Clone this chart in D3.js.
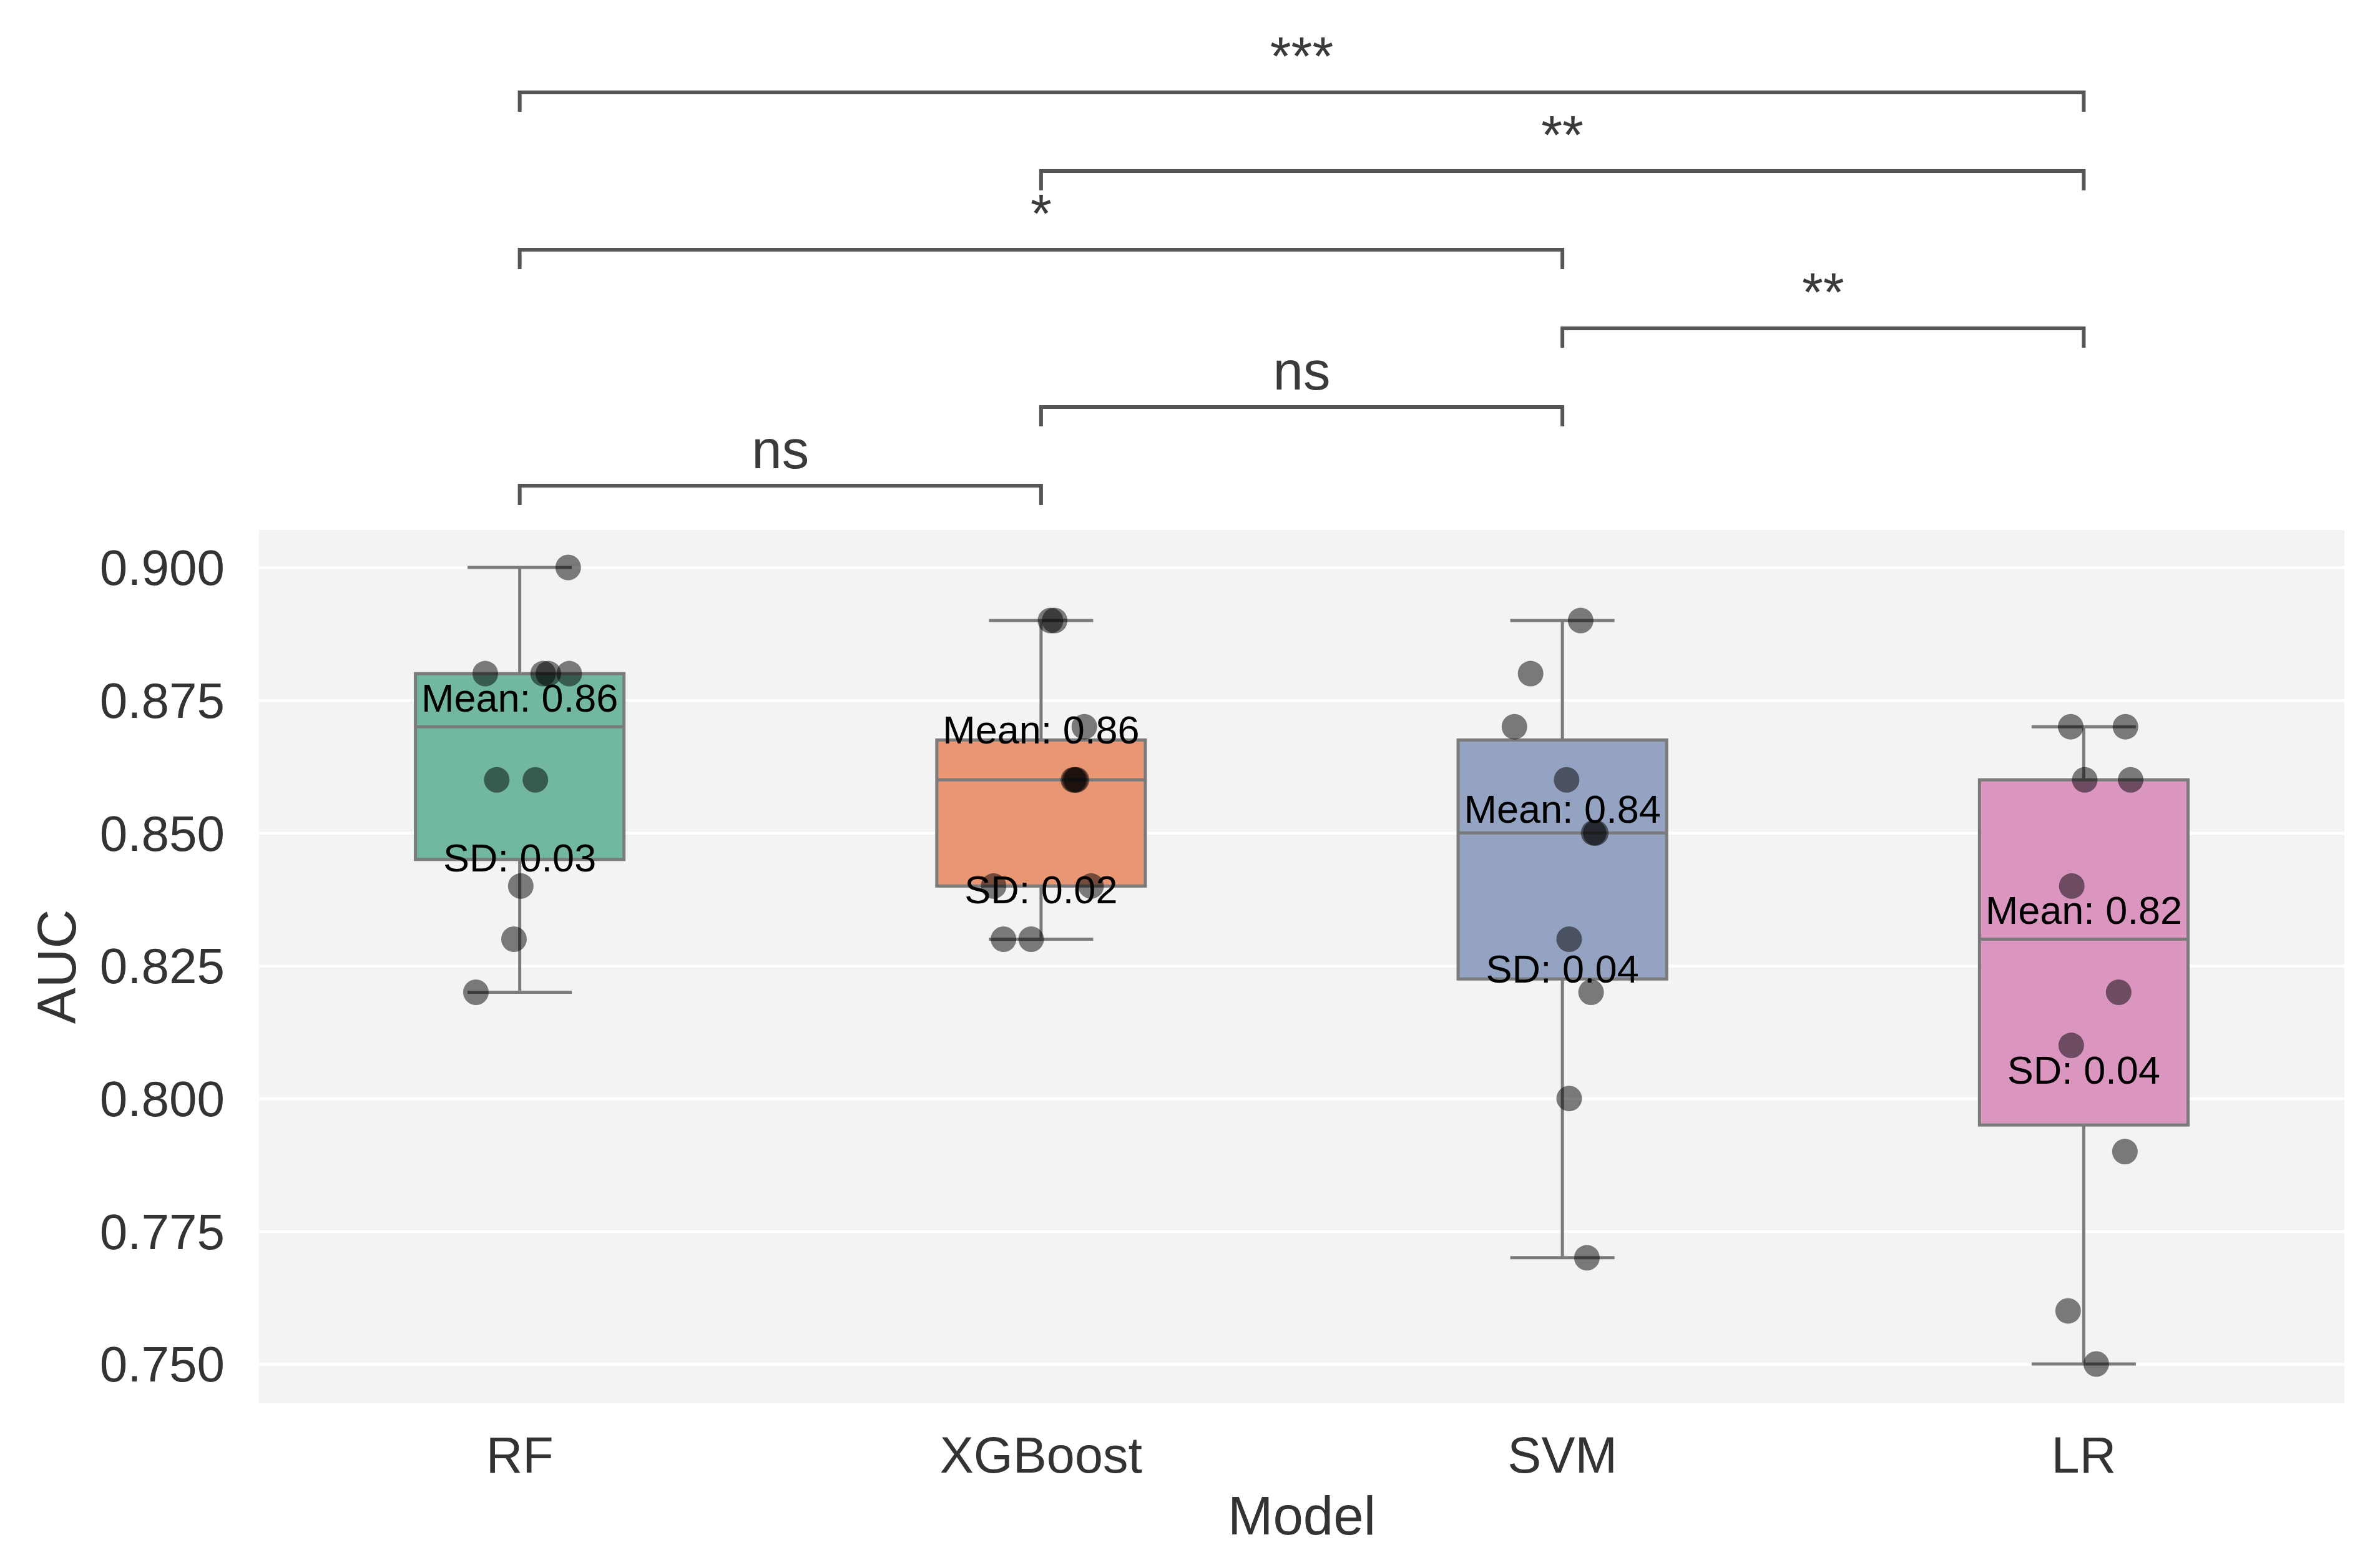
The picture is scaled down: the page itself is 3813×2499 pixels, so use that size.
<!DOCTYPE html>
<html>
<head>
<meta charset="utf-8">
<script src="https://cdn.jsdelivr.net/npm/d3@7"></script>
<style>
  html, body { margin: 0; padding: 0; background: #ffffff; }
  svg { display: block; }
</style>
</head>
<body>
<script>
// ---------------- DATA ----------------
const categories = ["RF", "XGBoost", "SVM", "LR"];
const rfValues   = [0.90, 0.88, 0.88, 0.88, 0.88, 0.86, 0.86, 0.84, 0.83, 0.82];
const xgbValues  = [0.89, 0.89, 0.87, 0.86, 0.86, 0.86, 0.84, 0.84, 0.83, 0.83];
const svmValues  = [0.89, 0.88, 0.87, 0.86, 0.85, 0.85, 0.83, 0.82, 0.80, 0.77];
const lrValues   = [0.87, 0.87, 0.86, 0.86, 0.84, 0.82, 0.81, 0.79, 0.76, 0.75];
// strip-plot jitter (fraction of band width)
const rfJitter   = [0.093, -0.066, 0.045, 0.055, 0.095, -0.044, 0.030, 0.002, -0.011, -0.084];
const xgbJitter  = [0.018, 0.026, 0.083, 0.062, 0.065, 0.068, -0.091, 0.096, -0.072, -0.019];
const svmJitter  = [0.035, -0.061, -0.092, 0.008, 0.060, 0.064, 0.013, 0.055, 0.013, 0.047];
const lrJitter   = [-0.025, 0.080, 0.002, 0.090, -0.023, 0.067, -0.024, 0.079, -0.030, 0.024];
const yTicks = [0.750, 0.775, 0.800, 0.825, 0.850, 0.875, 0.900];
const comparisons = [
  ["RF", "XGBoost", "ns"],
  ["XGBoost", "SVM", "ns"],
  ["SVM", "LR", "**"],
  ["RF", "SVM", "*"],
  ["XGBoost", "LR", "**"],
  ["RF", "LR", "***"]
];
const palette = ["#71b7a1", "#e99675", "#95a3c3", "#db96c0"];

const seriesValues = [rfValues, xgbValues, svmValues, lrValues];
const seriesJitter = [rfJitter, xgbJitter, svmJitter, lrJitter];

// ---------------- LAYOUT ----------------
const W = 3813, H = 2499;
const plot = { left: 415, right: 3756, top: 849, bottom: 2248 };
const FONT = "'Liberation Sans', Arial, Helvetica, sans-serif";

const svg = d3.select("body").append("svg")
  .attr("width", W).attr("height", H)
  .attr("viewBox", `0 0 ${W} ${H}`);

const x = d3.scaleBand().domain(categories)
  .range([plot.left, plot.right]).paddingInner(0).paddingOuter(0);
const y = d3.scaleLinear().domain([0.74259, 0.90705])
  .range([plot.bottom, plot.top]);

// background
svg.append("rect")
  .attr("x", plot.left).attr("y", plot.top)
  .attr("width", plot.right - plot.left).attr("height", plot.bottom - plot.top)
  .attr("fill", "#f3f3f3");

// gridlines
const yAxisGrid = d3.axisLeft(y).tickValues(yTicks)
  .tickSize(-(plot.right - plot.left)).tickFormat("");
const grid = svg.append("g").attr("transform", `translate(${plot.left},0)`).call(yAxisGrid);
grid.select(".domain").remove();
grid.selectAll("line").attr("stroke", "#ffffff").attr("stroke-width", 4.5);

// y axis labels
const yAxis = d3.axisLeft(y).tickValues(yTicks).tickSize(0).tickPadding(55)
  .tickFormat(d3.format(".3f"));
const ya = svg.append("g").attr("transform", `translate(${plot.left},0)`).call(yAxis);
ya.select(".domain").remove();
ya.selectAll("text").attr("font-family", FONT).attr("font-size", 80)
  .attr("fill", "#333333").attr("dy", "0.35em");

// x axis labels
const xAxis = d3.axisBottom(x).tickSize(0).tickPadding(0);
const xa = svg.append("g").attr("transform", `translate(0,${plot.bottom})`).call(xAxis);
xa.select(".domain").remove();
xa.selectAll("text").attr("font-family", FONT).attr("font-size", 81)
  .attr("fill", "#333333").attr("y", 111).attr("dy", 0);

// axis titles
svg.append("text").attr("x", (plot.left + plot.right) / 2).attr("y", 2458)
  .attr("text-anchor", "middle").attr("font-family", FONT).attr("font-size", 87)
  .attr("fill", "#333333").text("Model");
svg.append("text")
  .attr("transform", `translate(121,${(plot.top + plot.bottom) / 2}) rotate(-90)`)
  .attr("text-anchor", "middle").attr("font-family", FONT).attr("font-size", 87)
  .attr("fill", "#333333").text("AUC");

// ---------------- BOXES ----------------
const lineColor = "#7b7b7b";
const lw = 5;
const bw = x.bandwidth();
const boxW = bw * 0.4;

const stats = categories.map((c, i) => {
  const v = seriesValues[i].slice().sort(d3.ascending);
  const q1 = d3.quantile(v, 0.25), med = d3.quantile(v, 0.5), q3 = d3.quantile(v, 0.75);
  const iqr = q3 - q1;
  const lo = d3.min(v.filter(d => d >= q1 - 1.5 * iqr));
  const hi = d3.max(v.filter(d => d <= q3 + 1.5 * iqr));
  return { c, i, q1, med, q3, lo, hi, mean: d3.mean(v), sd: d3.deviation(v) };
});

const boxes = svg.append("g");
stats.forEach(s => {
  const cx = x(s.c) + bw / 2;
  const g = boxes.append("g");
  // whiskers
  g.append("line").attr("x1", cx).attr("x2", cx).attr("y1", y(s.q3)).attr("y2", y(s.hi))
    .attr("stroke", lineColor).attr("stroke-width", lw);
  g.append("line").attr("x1", cx).attr("x2", cx).attr("y1", y(s.q1)).attr("y2", y(s.lo))
    .attr("stroke", lineColor).attr("stroke-width", lw);
  // caps
  [s.hi, s.lo].forEach(v => {
    g.append("line").attr("x1", cx - boxW / 4).attr("x2", cx + boxW / 4)
      .attr("y1", y(v)).attr("y2", y(v))
      .attr("stroke", lineColor).attr("stroke-width", lw);
  });
  // box
  g.append("rect").attr("x", cx - boxW / 2).attr("y", y(s.q3))
    .attr("width", boxW).attr("height", y(s.q1) - y(s.q3))
    .attr("fill", palette[s.i]).attr("stroke", lineColor).attr("stroke-width", lw);
  // median
  g.append("line").attr("x1", cx - boxW / 2).attr("x2", cx + boxW / 2)
    .attr("y1", y(s.med)).attr("y2", y(s.med))
    .attr("stroke", lineColor).attr("stroke-width", lw);
});

// ---------------- POINTS ----------------
const pts = svg.append("g");
categories.forEach((c, i) => {
  const cx = x(c) + bw / 2;
  seriesValues[i].forEach((v, k) => {
    pts.append("circle")
      .attr("cx", cx + seriesJitter[i][k] * bw)
      .attr("cy", y(v))
      .attr("r", 20.5)
      .attr("fill", "#000000").attr("fill-opacity", 0.5);
  });
});

// ---------------- MEAN / SD TEXT ----------------
const txt = svg.append("g");
stats.forEach(s => {
  const cx = x(s.c) + bw / 2;
  txt.append("text").attr("x", cx).attr("y", y(s.mean) - 106)
    .attr("text-anchor", "middle").attr("dominant-baseline", "central")
    .attr("font-family", FONT).attr("font-size", 63).attr("fill", "#000000")
    .text("Mean: " + s.mean.toFixed(2));
  txt.append("text").attr("x", cx).attr("y", y(s.mean) + 150)
    .attr("text-anchor", "middle").attr("dominant-baseline", "central")
    .attr("font-family", FONT).attr("font-size", 63).attr("fill", "#000000")
    .text("SD: " + s.sd.toFixed(2));
});

// ---------------- SIGNIFICANCE BRACKETS ----------------
const br = svg.append("g");
const baseY = 778, step = 126, tick = 31;
comparisons.forEach((cmp, lvl) => {
  const x1 = x(cmp[0]) + bw / 2, x2 = x(cmp[1]) + bw / 2;
  const yy = baseY - lvl * step;
  br.append("path")
    .attr("d", `M${x1},${yy + tick} L${x1},${yy} L${x2},${yy} L${x2},${yy + tick}`)
    .attr("fill", "none").attr("stroke", "#555555").attr("stroke-width", 6)
    .attr("stroke-linejoin", "miter");
  br.append("text").attr("x", (x1 + x2) / 2).attr("y", yy - 28)
    .attr("text-anchor", "middle").attr("font-family", FONT).attr("font-size", 87)
    .attr("fill", "#3a3a3a").text(cmp[2]);
});
</script>
</body>
</html>
